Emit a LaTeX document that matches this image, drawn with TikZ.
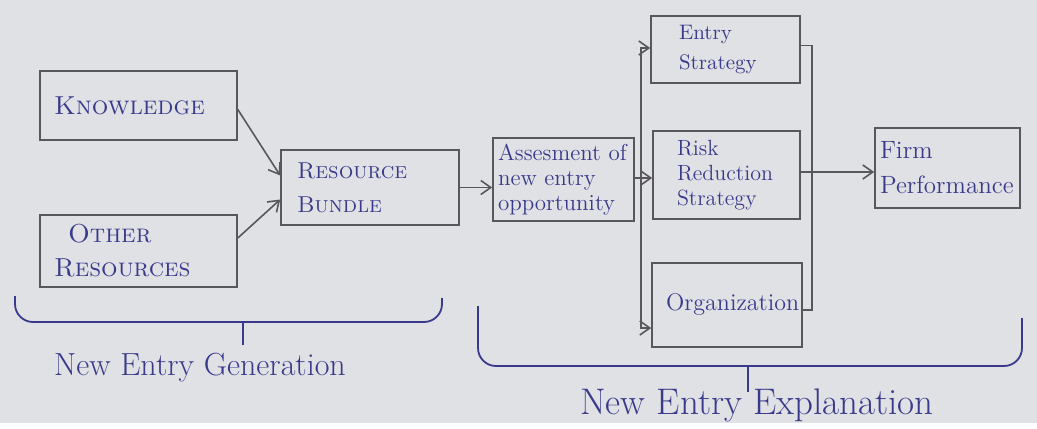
\documentclass[tikz,border=0pt]{standalone}
\usetikzlibrary{arrows.meta}
\definecolor{paper}{RGB}{224,225,228}
\definecolor{pencil}{RGB}{88,88,92}
\definecolor{inkblue}{RGB}{58,58,140}
\tikzset{
	box/.style = {draw=pencil, line width=0.8pt, align=left, text=inkblue, inner ysep=2pt},
	caps/.style = {font=\fontsize{13}{17}\selectfont\scshape},
	small/.style = {font=\fontsize{11}{12.5}\selectfont},
	link/.style = {draw=pencil, line width=0.8pt},
	bracket/.style = {draw=inkblue, line width=0.9pt, rounded corners=9pt},
	caption/.style = {text=inkblue}
}
\begin{document}
\begin{tikzpicture}[x=0.5pt, y=-0.5pt, >={Straight Barb[length=5pt,width=7pt]}]
		\fill[paper] (0,0) rectangle (1037,423);
		\node [box, caps, minimum width=98.5pt, minimum height=34.5pt, inner xsep=7pt, text width=84.5pt] (know) at (138.5,105.5) {Knowledge};
		\node [box, caps, minimum width=98.5pt, minimum height=36pt, inner xsep=7pt, text width=84.5pt] (other) at (138.5,251) {\hspace*{7pt}Other\\Resources};
		\node [box, font=\fontsize{11.5}{17}\selectfont\scshape, minimum width=89pt, minimum height=37.5pt, inner xsep=8pt, text width=73pt] (bundle) at (370,187.5) {Resource\\Bundle};
		\node [box, font=\fontsize{11.5}{12.5}\selectfont, minimum width=70.5pt, minimum height=41.5pt, inner xsep=2.5pt, text width=65.5pt] (assess) at (563.5,179.5) {Assesment of\\new entry\\opportunity};
		\node [box, font=\fontsize{10.5}{15}\selectfont, minimum width=74.5pt, minimum height=33.5pt, inner xsep=14pt, text width=46.5pt] (entry) at (725.5,49.5) {Entry\\Strategy};
		\node [box, small, minimum width=73.5pt, minimum height=44pt, inner xsep=12pt, text width=49.5pt] (risk) at (726.5,175) {Risk\\Reduction\\Strategy};
		\node [box, font=\fontsize{12}{14}\selectfont, minimum width=75pt, minimum height=42pt, inner xsep=7pt, text width=61pt] (org) at (727,305) {Organization};
		\node [box, font=\fontsize{12.5}{17.5}\selectfont, minimum width=72.5pt, minimum height=40pt, inner xsep=2.5pt, text width=67.5pt] (firm) at (947.5,168) {Firm\\Performance};

		\draw [link, ->] ([yshift=-2pt]know.east) -- ([yshift=6pt]bundle.west);
		\draw [link, ->] ([yshift=6.5pt]other.east) -- ([yshift=-6pt]bundle.west);
		\draw [link, ->] (bundle.east) -- (bundle.east -| assess.west);

		\coordinate (fork) at (641,178);
		\draw [link] (assess.east |- fork) -- (fork);
		\draw [link, ->] (fork) -- (fork -| risk.west);
		\draw [link, ->] (fork) |- ([yshift=0.75pt]entry.west);
		\draw [link, ->] (fork) |- ([yshift=-11.5pt]org.west);

		\coordinate (join) at (812,172);
		\draw [link] ([yshift=2pt]entry.east) -| (join);
		\draw [link] ([yshift=-2.5pt]org.east) -| (join);
		\draw [link, ->] (risk.east |- join) -- (join -| firm.west);

		\coordinate (gentip) at (243,322);
		\draw [bracket] (15,296) |- (gentip) -| (442,298);
		\draw [bracket] (gentip) -- ++(0,23);
		\node [caption, font=\fontsize{16}{18}\selectfont] (gen) at (200,368) {New Entry Generation};

		\coordinate (exptip) at (748,366);
		\draw [bracket] (478,306) |- (exptip) -| (1022,318);
		\draw [bracket] (exptip) -- ++(0,26);
		\node [caption, font=\fontsize{18.5}{20}\selectfont] (exp) at (757,405) {New Entry Explanation};
\end{tikzpicture}
\end{document}
